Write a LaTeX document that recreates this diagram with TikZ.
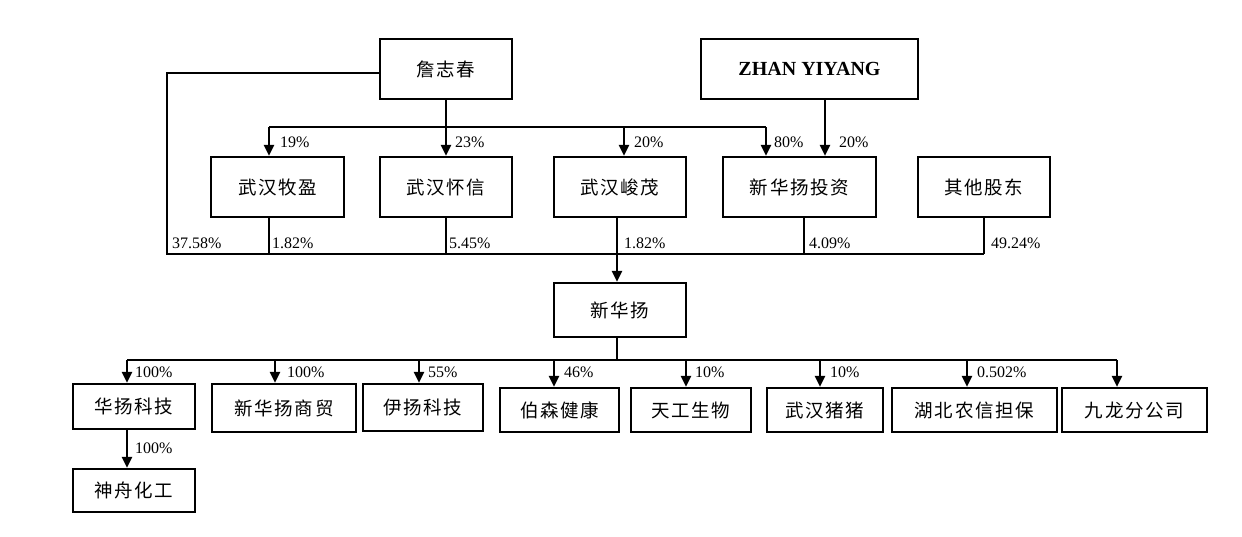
\documentclass[tikz,border=0pt]{standalone}
\usepackage{fontspec}
\setmainfont{Liberation Serif}
\newfontfamily\cjk{Noto Sans CJK SC}[LetterSpace=9]
\usetikzlibrary{arrows.meta,calc}
\begin{document}
\begin{tikzpicture}[x=1pt,y=-1pt,line width=2.2pt,
  box/.style={draw,line width=2.2pt,inner sep=0pt,font=\cjk\fontsize{18.5}{18.5}\selectfont},
  pct/.style={anchor=west,inner sep=0pt,font=\fontsize{16}{16}\selectfont},
  arr/.style={-{Triangle[length=11pt,width=10pt]}}]
\useasboundingbox (0,0) rectangle (1242,536);
% boxes
\node[box,minimum width=132pt,minimum height=60pt] (zhan) at (446,69) {詹志春};
\node[box,minimum width=217pt,minimum height=60pt,font=\bfseries\fontsize{20}{20}\selectfont] (ZY) at (809.5,69) {ZHAN YIYANG};
\node[box,minimum width=133pt,minimum height=60pt] (muying) at (277.5,187) {武汉牧盈};
\node[box,minimum width=132pt,minimum height=60pt] (huaixin) at (446,187) {武汉怀信};
\node[box,minimum width=132pt,minimum height=60pt] (junmao) at (620,187) {武汉峻茂};
\node[box,minimum width=153pt,minimum height=60pt] (invest) at (799.5,187) {新华扬投资};
\node[box,minimum width=132pt,minimum height=60pt] (others) at (984,187) {其他股东};
\node[box,minimum width=132pt,minimum height=54pt] (xhy) at (620,310) {新华扬};
\node[box,minimum width=122pt,minimum height=45pt] (hyky) at (134,406.5) {华扬科技};
\node[box,minimum width=144pt,minimum height=48pt] (shangmao) at (284,408) {新华扬商贸};
\node[box,minimum width=120pt,minimum height=47pt] (yiyang) at (423,407.5) {伊扬科技};
\node[box,minimum width=119pt,minimum height=44pt] (bosen) at (559.5,410) {伯森健康};
\node[box,minimum width=120pt,minimum height=44pt] (tiangong) at (691,410) {天工生物};
\node[box,minimum width=116pt,minimum height=44pt] (zhuzhu) at (825,410) {武汉猪猪};
\node[box,minimum width=165pt,minimum height=44pt] (hubei) at (974.5,410) {湖北农信担保};
\node[box,minimum width=145pt,minimum height=44pt] (jiulong) at (1134.5,410) {九龙分公司};
\node[box,minimum width=122pt,minimum height=43pt] (shenzhou) at (134,490.5) {神舟化工};
% bus coordinates
\coordinate (busT) at (0,127);
\coordinate (busB) at (0,254);
\coordinate (busL) at (0,360);
\coordinate (leftX) at (167,0);
% top connectors
\draw ([xshift=-8.5pt]muying.north |- busT) -- ([xshift=-33.5pt]invest.north |- busT);
\draw[arr] (zhan.south) -- (huaixin.north);
\draw[arr] ([xshift=-8.5pt]muying.north |- busT) -- ([xshift=-8.5pt]muying.north);
\draw[arr] ([xshift=4pt]junmao.north |- busT) -- ([xshift=4pt]junmao.north);
\draw[arr] ([xshift=-33.5pt]invest.north |- busT) -- ([xshift=-33.5pt]invest.north);
\draw[arr] ([xshift=15.5pt]ZY.south) -- ([xshift=15.5pt]ZY.south |- invest.north);
% left line and shareholder bus
\draw ([yshift=-4pt]zhan.west) -| (leftX |- busB) -- (others.south |- busB);
\draw ([xshift=-8.5pt]muying.south) -- ([xshift=-8.5pt]muying.south |- busB);
\draw (huaixin.south) -- (huaixin.south |- busB);
\draw ([xshift=-3pt]junmao.south) -- ([xshift=-3pt]junmao.south |- busB);
\draw ([xshift=4.5pt]invest.south) -- ([xshift=4.5pt]invest.south |- busB);
\draw (others.south) -- (others.south |- busB);
\draw[arr] ([xshift=-3pt]junmao.south |- busB) -- ([xshift=-3pt]xhy.north);
% subsidiaries
\draw ([xshift=-3pt]xhy.south) -- ([xshift=-3pt]xhy.south |- busL);
\draw ([xshift=-7pt]hyky.north |- busL) -- ([xshift=-17.5pt]jiulong.north |- busL);
\draw[arr] ([xshift=-7pt]hyky.north |- busL) -- ([xshift=-7pt]hyky.north);
\draw[arr] ([xshift=-9pt]shangmao.north |- busL) -- ([xshift=-9pt]shangmao.north);
\draw[arr] ([xshift=-4pt]yiyang.north |- busL) -- ([xshift=-4pt]yiyang.north);
\draw[arr] ([xshift=-5.5pt]bosen.north |- busL) -- ([xshift=-5.5pt]bosen.north);
\draw[arr] ([xshift=-5pt]tiangong.north |- busL) -- ([xshift=-5pt]tiangong.north);
\draw[arr] ([xshift=-5pt]zhuzhu.north |- busL) -- ([xshift=-5pt]zhuzhu.north);
\draw[arr] ([xshift=-7.5pt]hubei.north |- busL) -- ([xshift=-7.5pt]hubei.north);
\draw[arr] ([xshift=-17.5pt]jiulong.north |- busL) -- ([xshift=-17.5pt]jiulong.north);
\draw[arr] ([xshift=-7pt]hyky.south) -- ([xshift=-7pt]shenzhou.north);
% labels
\node[pct] (l1) at (279,142) {19\%};
\node[pct] (l2) at (454,142) {23\%};
\node[pct] (l3) at (633,142) {20\%};
\node[pct] (l4) at (773,142) {80\%};
\node[pct] (l5) at (838,142) {20\%};
\node[pct] (m1) at (171,243) {37.58\%};
\node[pct] (m2) at (271,243) {1.82\%};
\node[pct] (m3) at (448,243) {5.45\%};
\node[pct] (m4) at (623,243) {1.82\%};
\node[pct] (m5) at (808,243) {4.09\%};
\node[pct] (m6) at (990,243) {49.24\%};
\node[pct] (n1) at (134,372) {100\%};
\node[pct] (n2) at (286,372) {100\%};
\node[pct] (n3) at (427,372) {55\%};
\node[pct] (n4) at (563,372) {46\%};
\node[pct] (n5) at (694,372) {10\%};
\node[pct] (n6) at (829,372) {10\%};
\node[pct] (n7) at (976,372) {0.502\%};
\node[pct] (n8) at (134,448) {100\%};
\end{tikzpicture}
\end{document}
